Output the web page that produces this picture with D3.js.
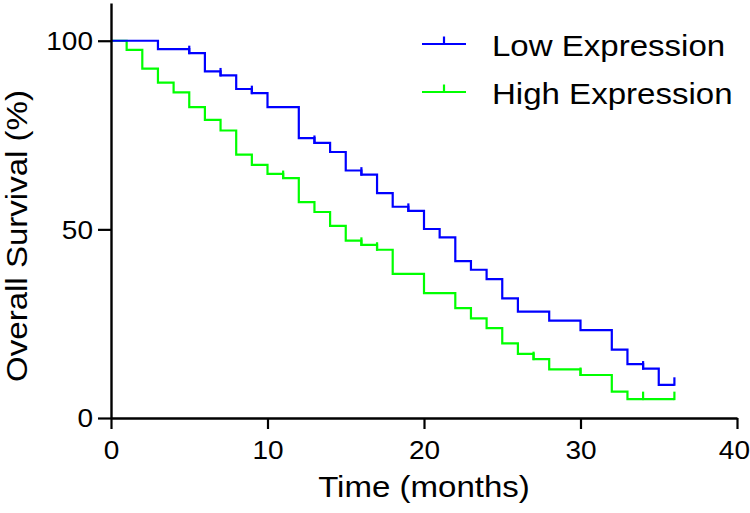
<!DOCTYPE html>
<html>
<head>
<meta charset="utf-8">
<script src="https://cdn.jsdelivr.net/npm/d3@7"></script>
<style>
  html, body { margin: 0; padding: 0; background: #fff; }
  svg { display: block; }
  text { font-family: "Liberation Sans", Arial, sans-serif; fill: #000; }
</style>
</head>
<body>
<svg id="chart" width="750" height="513"></svg>
<script>
// ---- Data ----
const lowTimes = [0, 3, 5, 6, 7, 8, 9, 10, 12, 13, 14, 15, 16, 17, 18, 19, 20, 21, 22, 23, 24, 25, 26, 28, 30, 32, 33, 34, 35, 36];
const lowSurvival = [100, 97.8, 96.7, 91.9, 90.8, 87.2, 86.1, 82.4, 74.2, 72.9, 70.5, 65.6, 64.5, 59.6, 56.0, 54.9, 50.1, 47.9, 41.6, 39.3, 36.8, 31.7, 28.2, 25.8, 23.3, 18.1, 14.3, 13.1, 8.8, 8.8];
const lowCensored = [5, 7, 9, 13, 16, 19, 34, 36];

const highTimes = [0, 1, 2, 3, 4, 5, 6, 7, 8, 9, 10, 11, 12, 13, 14, 15, 16, 17, 18, 20, 22, 23, 24, 25, 26, 27, 28, 30, 32, 33, 34, 36];
const highSurvival = [100, 97.6, 92.6, 88.9, 86.3, 82.4, 79.0, 76.2, 69.8, 67.1, 64.7, 63.6, 57.2, 54.6, 50.9, 47.0, 45.9, 44.6, 38.2, 33.1, 29.1, 26.4, 23.8, 19.8, 17.0, 15.6, 12.9, 11.4, 7.0, 5.0, 5.0, 5.0];
const highCensored = [11, 16, 17, 27, 30, 34, 36];

const xTicks = [0, 10, 20, 30, 40];
const yTicks = [0, 50, 100];
const seriesNames = ["Low Expression", "High Expression"];
const seriesColors = ["#0000ff", "#00ff00"];

// ---- Layout ----
const SX = 1.12; // wide glyphs seen in the reference
const svg = d3.select("#chart");
const x = d3.scaleLinear().domain([0, 40]).range([111, 737]);
const y = d3.scaleLinear().domain([0, 110]).range([418, 3]);

const series = [
  { name: seriesNames[0], color: seriesColors[0], times: lowTimes, surv: lowSurvival, cens: lowCensored },
  { name: seriesNames[1], color: seriesColors[1], times: highTimes, surv: highSurvival, cens: highCensored }
];

const line = d3.line().x(d => x(d[0])).y(d => y(d[1])).curve(d3.curveStepAfter);
const tickLen = 7.5;

// draw High first, then Low on top
[series[1], series[0]].forEach(s => {
  const pts = s.times.map((t, i) => [t, s.surv[i]]);
  svg.append("path")
    .attr("d", line(pts))
    .attr("fill", "none")
    .attr("stroke", s.color)
    .attr("stroke-width", 2.2);
  const levelAt = t => {
    let v = s.surv[0];
    s.times.forEach((tt, i) => { if (tt <= t) v = s.surv[i]; });
    return v;
  };
  svg.append("g").selectAll("line").data(s.cens).join("line")
    .attr("x1", d => x(d)).attr("x2", d => x(d))
    .attr("y1", d => y(levelAt(d)) + 1)
    .attr("y2", d => y(levelAt(d)) - tickLen)
    .attr("stroke", s.color)
    .attr("stroke-width", 2.2);
});

// ---- Axes ----
const xAxis = svg.append("g")
  .attr("transform", `translate(0,${y(0)})`)
  .call(d3.axisBottom(x).tickValues(xTicks).tickFormat(d3.format("d")).tickSize(11).tickSizeOuter(0));
const yAxis = svg.append("g")
  .attr("transform", `translate(${x(0)},0)`)
  .call(d3.axisLeft(y).tickValues(yTicks).tickFormat(d3.format("d")).tickSize(13).tickSizeOuter(0));

[xAxis, yAxis].forEach(g => {
  g.select(".domain").attr("stroke", "#000").attr("stroke-width", 2.4);
  g.selectAll(".tick line").attr("stroke", "#000").attr("stroke-width", 2.2);
  g.selectAll(".tick text").attr("font-size", 25).attr("font-family", null).attr("fill", "#000");
});
xAxis.selectAll(".tick text")
  .attr("y", null).attr("dy", null)
  .attr("text-anchor", d => d === 40 ? "end" : "middle")
  .attr("transform", d => `translate(${d === 40 ? 12.5 : 0},${459 - y(0)}) scale(${SX},1)`);
yAxis.selectAll(".tick text")
  .attr("x", null)
  .attr("dy", "0.35em")
  .attr("transform", `translate(-18,0) scale(${SX},1)`);

// ---- Axis titles ----
svg.append("text")
  .attr("transform", `translate(${(x(0) + x(40)) / 2},497) scale(${SX},1)`)
  .attr("text-anchor", "middle")
  .attr("font-size", 29.5)
  .text("Time (months)");

svg.append("text")
  .attr("transform", `translate(27,236) rotate(-90) scale(${SX},1)`)
  .attr("text-anchor", "middle")
  .attr("font-size", 29.5)
  .text("Overall Survival (%)");

// ---- Legend ----
const legendY = [44, 92];
series.forEach((s, i) => {
  const g = svg.append("g");
  g.append("line")
    .attr("x1", 422).attr("x2", 466)
    .attr("y1", legendY[i]).attr("y2", legendY[i])
    .attr("stroke", s.color).attr("stroke-width", 2.2);
  g.append("line")
    .attr("x1", 444).attr("x2", 444)
    .attr("y1", legendY[i]).attr("y2", legendY[i] - tickLen)
    .attr("stroke", s.color).attr("stroke-width", 2.2);
  g.append("text")
    .attr("transform", `translate(492,${legendY[i] + 12}) scale(${SX},1)`)
    .attr("font-size", 29.5)
    .text(s.name);
});
</script>
</body>
</html>
